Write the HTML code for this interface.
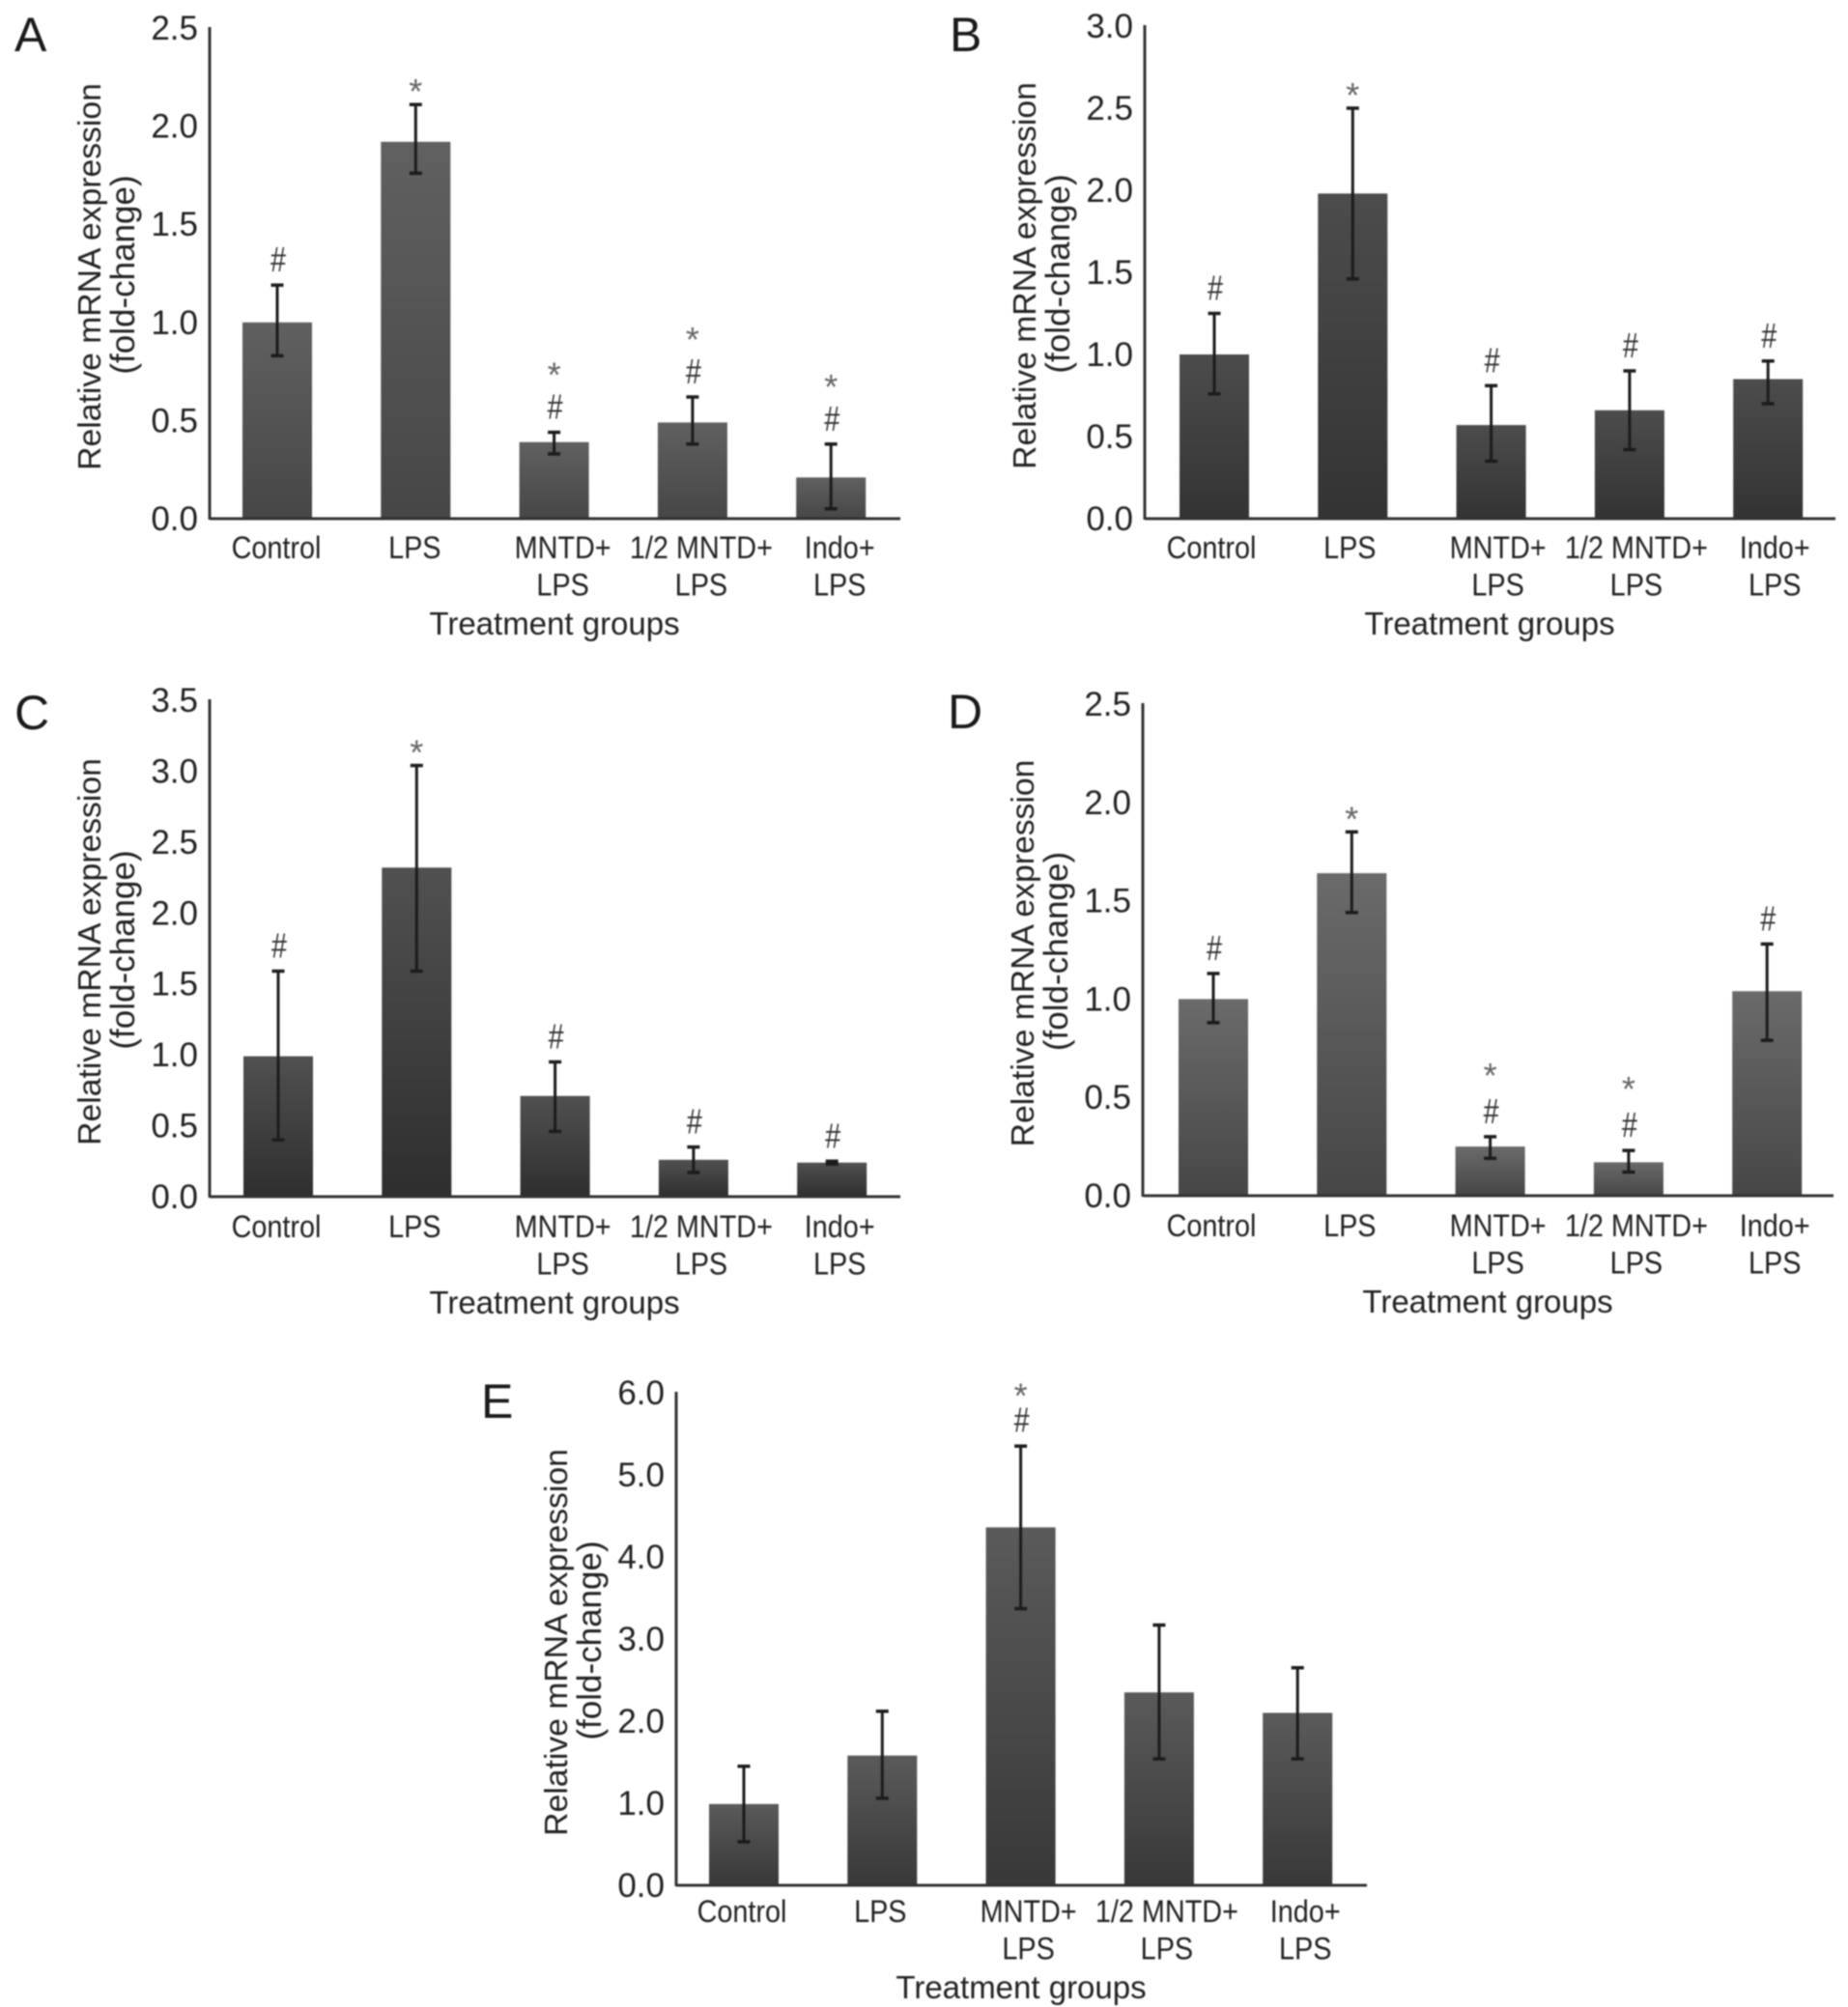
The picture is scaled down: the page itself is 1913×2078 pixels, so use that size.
<!DOCTYPE html>
<html lang="en">
<head>
<meta charset="utf-8">
<title>Relative mRNA expression by treatment group</title>
<style>
html,body{margin:0;padding:0;background:#fff;}
svg{display:block;filter:blur(0.7px);}
text{font-family:"Liberation Sans",Arial,sans-serif;fill:#222;}
</style>
</head>
<body>
<svg id="figure" xmlns="http://www.w3.org/2000/svg" width="1913" height="2078" viewBox="0 0 1913 2078">
<defs id="defs"></defs>
</svg>
<script>
const categories = [['Control'], ['LPS'], ['MNTD+', 'LPS'], ['1/2 MNTD+', 'LPS'], ['Indo+', 'LPS']];

const ticksA = ['0.0', '0.5', '1.0', '1.5', '2.0', '2.5'];
const valuesA = [1.0, 1.92, 0.39, 0.49, 0.21];
const errLowA = [0.83, 1.76, 0.33, 0.38, 0.05];
const errHighA = [1.19, 2.11, 0.44, 0.62, 0.38];
const hashA = [1, 0, 1, 1, 1];
const starA = [0, 1, 1, 1, 1];

const ticksB = ['0.0', '0.5', '1.0', '1.5', '2.0', '2.5', '3.0'];
const valuesB = [1.0, 1.98, 0.57, 0.66, 0.85];
const errLowB = [0.76, 1.46, 0.35, 0.42, 0.70];
const errHighB = [1.25, 2.50, 0.81, 0.90, 0.96];
const hashB = [1, 0, 1, 1, 1];
const starB = [0, 1, 0, 0, 0];

const ticksC = ['0.0', '0.5', '1.0', '1.5', '2.0', '2.5', '3.0', '3.5'];
const valuesC = [0.99, 2.32, 0.71, 0.26, 0.24];
const errLowC = [0.40, 1.59, 0.46, 0.17, 0.23];
const errHighC = [1.59, 3.04, 0.95, 0.35, 0.25];
const hashC = [1, 0, 1, 1, 1];
const starC = [0, 1, 0, 0, 0];

const ticksD = ['0.0', '0.5', '1.0', '1.5', '2.0', '2.5'];
const valuesD = [1.0, 1.64, 0.25, 0.17, 1.04];
const errLowD = [0.88, 1.44, 0.19, 0.12, 0.79];
const errHighD = [1.13, 1.85, 0.30, 0.23, 1.28];
const hashD = [1, 0, 1, 1, 1];
const starD = [0, 1, 1, 1, 0];

const ticksE = ['0.0', '1.0', '2.0', '3.0', '4.0', '5.0', '6.0'];
const valuesE = [0.99, 1.58, 4.36, 2.35, 2.10];
const errLowE = [0.53, 1.06, 3.37, 1.54, 1.54];
const errHighE = [1.45, 2.12, 5.35, 3.17, 2.65];
const hashE = [0, 0, 1, 0, 0];
const starE = [0, 0, 1, 0, 0];

const NS = 'http://www.w3.org/2000/svg';
const svg = document.getElementById('figure');
const defs = document.getElementById('defs');

function mk(parent, tag, name, attrs) {
  const el = document.createElementNS(NS, tag);
  
  
  for (const k in attrs) el.setAttribute(k, attrs[k]);
  parent.appendChild(el);
  return el;
}

function label(parent, name, str, x, y, size, sx, anchor, color) {
  const t = mk(parent, 'text', name, {
    transform: 'translate(' + x + ',' + y + ') scale(' + sx + ',1)',
    'font-size': size,
    'text-anchor': anchor
  });
  if (color) t.style.fill = color;
  t.textContent = str;
  return t;
}

function drawPanel(p) {
  const g = mk(svg, 'g', 'panel-' + p.letter.toLowerCase(), {});
  const maxVal = parseFloat(p.ticks[p.ticks.length - 1]);
  const y = v => p.y0 - (v / maxVal) * (p.y0 - p.yTop);
  const band = i => p.x0 + i * 143.3;

  const gradId = 'grad' + p.letter;
  const grad = mk(defs, 'linearGradient', 'bar-gradient-' + p.letter.toLowerCase(), {id: gradId, x1: 0, y1: 0, x2: 0, y2: 1});
  mk(grad, 'stop', 'gradient-top', {offset: '0%', 'stop-color': p.top});
  mk(grad, 'stop', 'gradient-bottom', {offset: '100%', 'stop-color': p.bottom});

  label(g, 'panel-letter', p.letter, p.axisX - 202, p.y0 - 484, 50, 1, 'start', '#1a1a1a');

  p.ticks.forEach(tk => {
    label(g, 'y-tick-label', tk, p.axisX - 12, y(parseFloat(tk)) + 12, 35, 1, 'end');
  });

  const mid = (p.y0 + p.yTop) / 2 + 3.5;
  const yt1 = label(g, 'y-axis-title', 'Relative mRNA expression', 0, 0, 33.7, 1, 'middle');
  yt1.setAttribute('transform', 'translate(' + (p.axisX - 113) + ',' + mid + ') rotate(-90)');
  const yt2 = label(g, 'y-axis-subtitle', '(fold-change)', 0, 0, 35, 1, 'middle');
  yt2.setAttribute('transform', 'translate(' + (p.axisX - 78) + ',' + (mid - 2) + ') rotate(-90)');

  p.values.forEach((v, i) => {
    const cx = band(i);
    mk(g, 'rect', 'bar-' + i, {x: cx - 36, y: y(v), width: 72, height: p.y0 - y(v), fill: 'url(#' + gradId + ')'});
    const hi = y(p.errHigh[i]);
    const lo = y(p.errLow[i]);
    mk(g, 'line', 'error-stem-' + i, {x1: cx, x2: cx, y1: hi, y2: lo, stroke: '#1c1c1c', 'stroke-width': 3});
    mk(g, 'line', 'error-cap-high-' + i, {x1: cx - 6.5, x2: cx + 6.5, y1: hi, y2: hi, stroke: '#1c1c1c', 'stroke-width': 3.5});
    mk(g, 'line', 'error-cap-low-' + i, {x1: cx - 6.5, x2: cx + 6.5, y1: lo, y2: lo, stroke: '#1c1c1c', 'stroke-width': 3.5});
    if (p.hash[i]) {
      label(g, 'hash-marker-' + i, '#', cx + 1, hi - 14 - p.hashLift, 36, 0.8, 'middle', '#333');
    }
    if (p.star[i]) {
      const lift = p.hash[i] ? p.starLift : 1;
      label(g, 'star-marker-' + i, '*', cx, hi - lift, 36, 1, 'middle', '#666');
    }
    categories[i].forEach((line, k) => {
      const shift = (i >= 2 ? 8 : -2) + p.labelNudge;
      label(g, 'x-tick-label-' + i, line, cx + shift, p.y0 + 41 + p.labelDy + k * 38.5, 32, 0.9, 'middle');
    });
  });

  mk(g, 'line', 'y-axis', {x1: p.axisX, x2: p.axisX, y1: p.yTop - 1, y2: p.y0 + 1, stroke: '#333', 'stroke-width': 3});
  mk(g, 'line', 'x-axis', {x1: p.axisX, x2: p.axisX + 715, y1: p.y0, y2: p.y0, stroke: '#333', 'stroke-width': 3});
  label(g, 'x-axis-title', 'Treatment groups', p.axisX + 357, p.y0 + 120 + p.labelDy, 33, 1, 'middle');
}

drawPanel({letter: 'A', axisX: 217, y0: 537, yTop: 29, x0: 287, labelNudge: 1, labelDy: 0, starLift: 47, hashLift: 0, ticks: ticksA, values: valuesA, errLow: errLowA, errHigh: errHighA, hash: hashA, star: starA, top: '#606060', bottom: '#464646'});
drawPanel({letter: 'B', axisX: 1185, y0: 537, yTop: 27, x0: 1257, labelNudge: -1, labelDy: 0, starLift: 47, hashLift: 0, ticks: ticksB, values: valuesB, errLow: errLowB, errHigh: errHighB, hash: hashB, star: starB, top: '#4c4c4c', bottom: '#333333'});
drawPanel({letter: 'C', axisX: 217, y0: 1239, yTop: 725, x0: 288, labelNudge: 0, labelDy: 1, starLift: 47, hashLift: 0, ticks: ticksC, values: valuesC, errLow: errLowC, errHigh: errHighC, hash: hashC, star: starC, top: '#505050', bottom: '#2e2e2e'});
drawPanel({letter: 'D', axisX: 1183, y0: 1238, yTop: 729, x0: 1256, labelNudge: 0, labelDy: 1, starLift: 51, hashLift: 0, ticks: ticksD, values: valuesD, errLow: errLowD, errHigh: errHighD, hash: hashD, star: starD, top: '#6a6a6a', bottom: '#464646'});
drawPanel({letter: 'E', axisX: 700, y0: 1952, yTop: 1442, x0: 770, labelNudge: 0, labelDy: -3, starLift: 40, hashLift: 1, ticks: ticksE, values: valuesE, errLow: errLowE, errHigh: errHighE, hash: hashE, star: starE, top: '#5a5a5a', bottom: '#383838'});
</script>
</body>
</html>
